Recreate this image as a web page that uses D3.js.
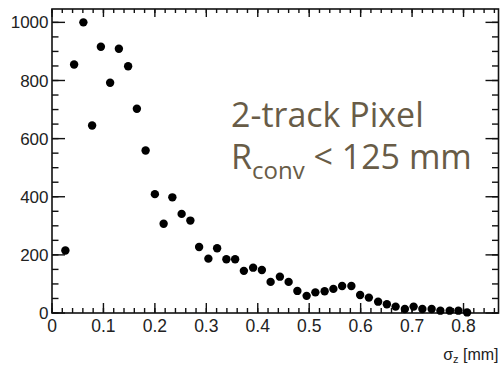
<!DOCTYPE html>
<html>
<head>
<meta charset="utf-8">
<script src="https://cdn.jsdelivr.net/npm/d3@7"></script>
<style>
  body { margin: 0; background: #fff; }
  svg { display: block; }
</style>
</head>
<body>
<script>
// sigma_z bin centres [mm] and entries per bin
var sigmaZ = [0.026, 0.043, 0.061, 0.078, 0.095, 0.113, 0.130, 0.148, 0.165, 0.182,
              0.200, 0.217, 0.234, 0.252, 0.269, 0.286, 0.304, 0.321, 0.339, 0.356,
              0.373, 0.391, 0.408, 0.425, 0.443, 0.460, 0.477, 0.495, 0.512, 0.530,
              0.547, 0.564, 0.582, 0.599, 0.616, 0.634, 0.651, 0.668, 0.686, 0.703,
              0.720, 0.738, 0.755, 0.773, 0.790, 0.807];
var entries = [215, 855, 1000, 645, 916, 792, 909, 849, 703, 559,
               409, 307, 398, 341, 318, 227, 187, 223, 185, 185,
               145, 156, 148, 107, 125, 107, 76, 59, 71, 75,
               83, 93, 93, 62, 53, 39, 30, 22, 14, 22,
               14, 14, 8, 8, 8, 2];
var xTicks = [0, 0.1, 0.2, 0.3, 0.4, 0.5, 0.6, 0.7, 0.8];
var yTicks = [0, 200, 400, 600, 800, 1000];
var labelLine1 = "2-track Pixel";

var W = 500, H = 366;
var pL = 52, pR = 498.5, pT = 9, pB = 313;

var svg = d3.select("body").append("svg")
  .attr("width", W)
  .attr("height", H);

var x = d3.scaleLinear().domain([0, 0.868]).range([pL, pR]);
var y = d3.scaleLinear().domain([0, 1046]).range([pB, pT]);

var xMinor = d3.range(0, 0.8681, 0.02);
var yMinor = d3.range(0, 1046, 50);

function tickLines(sel, vals, x1, y1, x2, y2) {
  sel.selectAll(null).data(vals).enter().append("line")
    .attr("x1", x1).attr("y1", y1).attr("x2", x2).attr("y2", y2)
    .attr("stroke", "#111").attr("stroke-width", 1.4);
}
function fx(d) { return x(d); }
function fy(d) { return y(d); }

var g = svg.append("g");

// bottom + top x ticks
tickLines(g, xMinor, fx, pB, fx, pB - 5);
tickLines(g, xTicks, fx, pB, fx, pB - 10);
tickLines(g, xMinor, fx, pT, fx, pT + 4);
tickLines(g, xTicks, fx, pT, fx, pT + 8);

// left + right y ticks
tickLines(g, yMinor, pL, fy, pL + 6.5, fy);
tickLines(g, yTicks, pL, fy, pL + 13, fy);
tickLines(g, yMinor, pR, fy, pR - 6.5, fy);
tickLines(g, yTicks, pR, fy, pR - 13, fy);

// frame
g.append("rect")
  .attr("x", pL).attr("y", pT)
  .attr("width", pR - pL).attr("height", pB - pT)
  .attr("fill", "none").attr("stroke", "#111").attr("stroke-width", 1.6);

// tick labels
svg.append("g").selectAll("text").data(xTicks).enter().append("text")
  .attr("x", fx)
  .attr("y", 331.5)
  .attr("text-anchor", "middle")
  .attr("font-family", "Liberation Sans, Arial, sans-serif")
  .attr("font-size", 17.5)
  .attr("fill", "#222")
  .text(function(d) { return d === 0 ? "0" : d3.format(".1f")(d); });

svg.append("g").selectAll("text").data(yTicks).enter().append("text")
  .attr("x", 48.5)
  .attr("y", fy)
  .attr("dy", "0.36em")
  .attr("text-anchor", "end")
  .attr("font-family", "Liberation Sans, Arial, sans-serif")
  .attr("font-size", 17)
  .attr("fill", "#222")
  .text(function(d) { return d; });

// axis title
var xt = svg.append("text")
  .attr("x", 498.5)
  .attr("y", 360)
  .attr("text-anchor", "end")
  .attr("font-family", "Liberation Sans, Arial, sans-serif")
  .attr("font-size", 16)
  .attr("fill", "#222");
xt.append("tspan").text("σ");
xt.append("tspan").attr("font-size", 11).attr("dy", 3).text("z");
xt.append("tspan").attr("dy", -3).text(" [mm]");

// data points
svg.append("g").selectAll("circle").data(sigmaZ).enter().append("circle")
  .attr("cx", fx)
  .attr("cy", function(d, i) { return y(entries[i]); })
  .attr("r", 4.2)
  .attr("fill", "#000");

// annotation
var txtColor = "#685c47";
svg.append("text")
  .attr("x", 231).attr("y", 127)
  .attr("font-family", "Open Sans, sans-serif")
  .attr("font-size", 34)
  .attr("fill", txtColor)
  .text(labelLine1);

var t2 = svg.append("text")
  .attr("x", 231).attr("y", 169)
  .attr("font-family", "Open Sans, sans-serif")
  .attr("font-size", 34)
  .attr("fill", txtColor);
t2.append("tspan").text("R");
t2.append("tspan").attr("font-size", 24).attr("dy", 10).text("conv");
t2.append("tspan").attr("dy", -10).text(" < 125 mm");
</script>
</body>
</html>
